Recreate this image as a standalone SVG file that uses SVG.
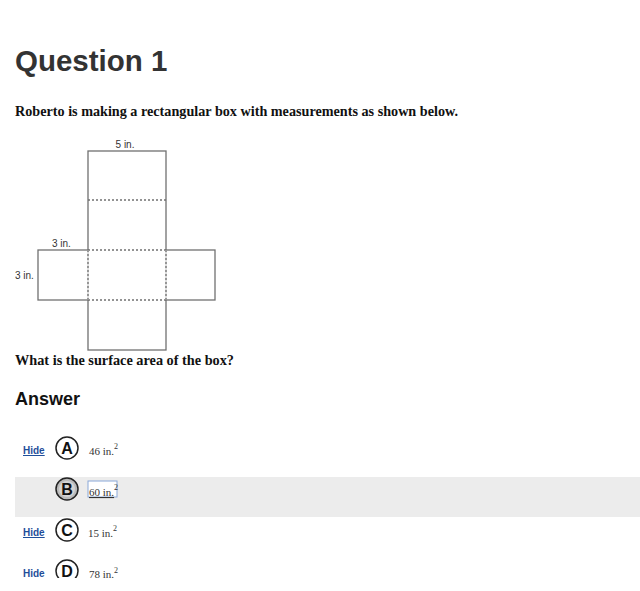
<svg xmlns="http://www.w3.org/2000/svg" width="640" height="591" viewBox="0 0 640 591">
<style>
.net{fill:none;stroke:#707070;stroke-width:1.3}
.dot{fill:none;stroke:#707070;stroke-width:1.3;stroke-dasharray:2 2}
.lbl{font-family:"Liberation Sans",Arial,sans-serif;font-size:10px;fill:#333}
.q{font-family:"Liberation Serif","Times New Roman",serif;font-weight:bold;font-size:14.2px;fill:#111}
.hide{font-family:"Liberation Sans",Arial,sans-serif;font-weight:bold;font-size:10px;fill:#1f4e9a}
.circ{fill:#fff;stroke:#222;stroke-width:1.5}
.let{font-family:"Liberation Sans",Arial,sans-serif;font-weight:bold;font-size:16px;fill:#111;text-anchor:middle}
.ans{font-family:"Liberation Serif","Times New Roman",serif;font-size:11px;fill:#333}
.sup{font-family:"Liberation Serif","Times New Roman",serif;font-size:8px;fill:#333}
</style>
<defs><clipPath id="clip"><rect x="0" y="0" width="640" height="578"/></clipPath></defs>
<rect width="640" height="591" fill="#fff"/>
<text x="15" y="71" font-family="Liberation Sans,Arial,sans-serif" font-weight="bold" font-size="29.5" fill="#333">Question 1</text>
<text x="15" y="116" class="q" textLength="443" lengthAdjust="spacingAndGlyphs">Roberto is making a rectangular box with measurements as shown below.</text>
<g id="net">
<rect x="88" y="151" width="78" height="199" class="net"/>
<rect x="38" y="250" width="50" height="50" class="net"/>
<rect x="166" y="250" width="49" height="50" class="net"/>
<line x1="88" y1="200" x2="166" y2="200" class="dot"/>
<line x1="88" y1="250" x2="166" y2="250" class="dot"/>
<line x1="88" y1="300" x2="166" y2="300" class="dot"/>
<line x1="88" y1="250" x2="88" y2="300" stroke="#fff" stroke-width="1.5"/>
<line x1="88" y1="250" x2="88" y2="300" class="dot"/>
<line x1="166" y1="250" x2="166" y2="300" stroke="#fff" stroke-width="1.5"/>
<line x1="166" y1="250" x2="166" y2="300" class="dot"/>
<text x="125" y="148" class="lbl" text-anchor="middle">5 in.</text>
<text x="52" y="247" class="lbl">3 in.</text>
<text x="15" y="279" class="lbl">3 in.</text>
</g>
<text x="15" y="365" class="q" textLength="219" lengthAdjust="spacingAndGlyphs">What is the surface area of the box?</text>
<text x="15" y="405" font-family="Liberation Sans,Arial,sans-serif" font-weight="bold" font-size="18" fill="#111">Answer</text>
<g clip-path="url(#clip)">
<rect x="15" y="477" width="625" height="40" fill="#ececec"/>
<g id="optA">
<text x="23" y="454" class="hide" text-decoration="underline">Hide</text>
<circle cx="67" cy="448" r="11" class="circ"/>
<text x="67" y="454" class="let">A</text>
<text x="89" y="455" class="ans">46 in.</text><text x="114" y="449" class="sup">2</text>
</g>
<g id="optB">
<circle cx="67" cy="489" r="11" fill="#bbb" stroke="#222" stroke-width="1.5"/>
<circle cx="67" cy="489" r="8" fill="#d5d5d5"/>
<text x="67" y="495" class="let">B</text>
<rect x="88" y="481" width="29" height="16" fill="#fff" stroke="#8aa8d8" stroke-width="1"/>
<text x="89" y="496" class="ans" text-decoration="underline">60 in.</text><text x="114" y="490" class="sup">2</text>
</g>
<g id="optC">
<text x="23" y="536" class="hide" text-decoration="underline">Hide</text>
<circle cx="67" cy="530" r="11" class="circ"/>
<text x="67" y="536" class="let">C</text>
<text x="88" y="537" class="ans">15 in.</text><text x="113" y="531" class="sup">2</text>
</g>
<g id="optD">
<text x="23" y="577" class="hide">Hide</text>
<circle cx="67" cy="571" r="11" class="circ"/>
<text x="67" y="577" class="let">D</text>
<text x="89" y="578" class="ans">78 in.</text><text x="114" y="573" class="sup">2</text>
</g>
</g>
</svg>
